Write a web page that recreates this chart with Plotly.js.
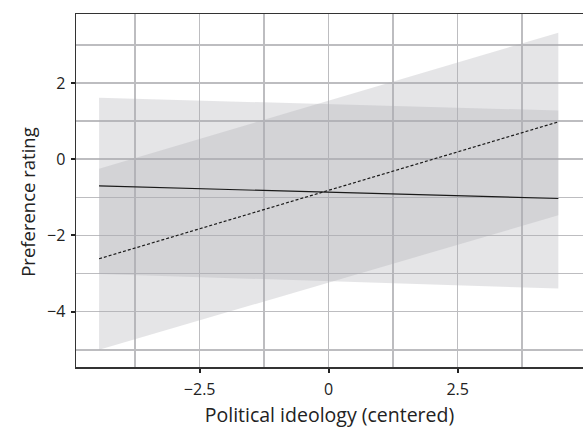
<!DOCTYPE html>
<html>
<head>
<meta charset="utf-8">
<script src="https://cdn.plot.ly/plotly-3.0.1.min.js"></script>
<style>
  html, body { margin: 0; padding: 0; background: #ffffff; }
  #chart { width: 583px; height: 428px; }
</style>
</head>
<body>
<div id="chart"></div>
<script>
// Political ideology (centered) values at the ends of the fitted range
const ideology = [-4.45, 4.45];

// Solid line condition
const solidFit = [-0.70, -1.03];
const solidLower = [-3.01, -3.39];
const solidUpper = [1.61, 1.28];

// Dashed line condition
const dashedFit = [-2.61, 0.98];
const dashedLower = [-5.00, -1.47];
const dashedUpper = [-0.25, 3.32];

const xTickVals = [-2.5, 0, 2.5];
const xTickText = ['\u22122.5', '0', '2.5'];
const yTickVals = [-4, -2, 0, 2];
const yTickText = ['\u22124', '\u22122', '0', '2'];

const xTitle = 'Political ideology (centered)';
const yTitle = 'Preference rating';

const ribbonColor = 'rgba(170,170,176,0.31)';

function ribbon(lower, upper) {
  return {
    x: ideology.concat(ideology.slice().reverse()),
    y: upper.concat(lower.slice().reverse()),
    type: 'scatter',
    mode: 'lines',
    fill: 'toself',
    fillcolor: ribbonColor,
    line: { width: 0, color: 'rgba(0,0,0,0)' },
    hoverinfo: 'skip',
    showlegend: false
  };
}

const traces = [
  ribbon(solidLower, solidUpper),
  ribbon(dashedLower, dashedUpper),
  {
    x: ideology, y: solidFit, type: 'scatter', mode: 'lines',
    line: { color: '#1a1a1a', width: 1.2 }, showlegend: false
  },
  {
    x: ideology, y: dashedFit, type: 'scatter', mode: 'lines',
    line: { color: '#1a1a1a', width: 1.2, dash: '3px,2px' }, showlegend: false
  }
];

const fontFam = '"Open Sans", "Noto Sans", sans-serif';

const layout = {
  width: 583, height: 428,
  margin: { l: 76, r: 0, t: 14, b: 60.5 },
  paper_bgcolor: '#ffffff',
  plot_bgcolor: '#ffffff',
  showlegend: false,
  font: { family: fontFam, size: 16, color: '#222222' },
  xaxis: {
    range: [-4.897, 4.928],
    tickvals: xTickVals, ticktext: xTickText,
    ticks: 'outside', ticklen: 4, tickwidth: 2, tickcolor: '#222222',
    ticklabelstandoff: 3,
    showline: true, linecolor: '#333333', linewidth: 1.5, mirror: true,
    showgrid: true, gridcolor: '#bdbdc0', gridwidth: 1.5,
    minor: { tickvals: [-3.75, -1.25, 1.25, 3.75], showgrid: true, gridcolor: '#bdbdc0', gridwidth: 1.5, ticks: '' },
    zeroline: false,
    tickfont: { family: fontFam, size: 16, color: '#222222' },
    title: { text: xTitle, font: { family: fontFam, size: 19.5, color: '#222222' }, standoff: 11 }
  },
  yaxis: {
    range: [-5.45, 3.81],
    tickvals: yTickVals, ticktext: yTickText,
    ticks: 'outside', ticklen: 4, tickwidth: 2, tickcolor: '#222222',
    ticklabelstandoff: 2,
    showline: true, linecolor: '#333333', linewidth: 1.5, mirror: false,
    showgrid: true, gridcolor: '#bdbdc0', gridwidth: 1.5,
    minor: { tickvals: [-5, -3, -1, 1, 3], showgrid: true, gridcolor: '#bdbdc0', gridwidth: 1.5, ticks: '' },
    zeroline: false,
    tickfont: { family: fontFam, size: 16, color: '#222222' }
  },
  annotations: [{
    text: yTitle,
    xref: 'paper', yref: 'paper',
    x: 0, y: 0.468,
    xanchor: 'center', yanchor: 'middle',
    xshift: -48,
    textangle: -90,
    showarrow: false,
    font: { family: fontFam, size: 18.5, color: '#222222' }
  }]
};

Plotly.newPlot('chart', traces, layout, { staticPlot: true, displayModeBar: false });
</script>
</body>
</html>
